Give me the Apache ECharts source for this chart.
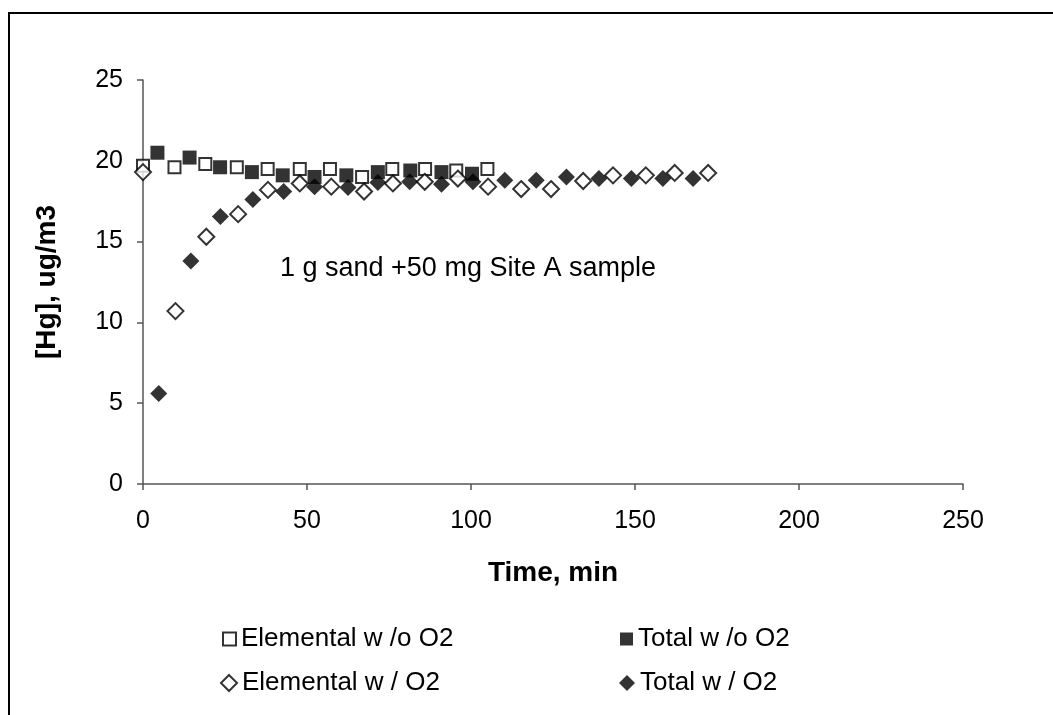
<!DOCTYPE html>
<html>
<head>
<meta charset="utf-8">
<script src="https://cdn.jsdelivr.net/npm/echarts@6/dist/echarts.min.js"></script>
<style>html,body{margin:0;padding:0;background:#fff}#c{width:1053px;height:715px}</style>
</head>
<body>
<div id="c"></div>
<script>
// ---- data ----
const xTicks = [0, 50, 100, 150, 200, 250];
const yTicks = [0, 5, 10, 15, 20, 25];
const seriesNames = ['Elemental w /o O2', 'Total w /o O2', 'Elemental w / O2', 'Total w / O2'];
const elemNoO2_t = [0, 9.6, 19, 28.6, 38, 47.8, 57, 66.8, 76, 86, 95.5, 105];
const elemNoO2_v = [19.7, 19.6, 19.8, 19.6, 19.5, 19.5, 19.5, 19.0, 19.5, 19.5, 19.4, 19.5];
const totalNoO2_t = [4.4, 14.2, 23.5, 33.2, 42.6, 52.3, 62, 71.6, 81.5, 91, 100.3];
const totalNoO2_v = [20.5, 20.2, 19.6, 19.3, 19.1, 19.0, 19.1, 19.3, 19.4, 19.3, 19.2];
const elemO2_t = [0, 9.9, 19.3, 29, 38.1, 47.8, 57.4, 67.4, 76.2, 85.9, 96, 105.2, 115.3, 124.4, 134.2, 143.3, 153.3, 162.1, 172.3];
const elemO2_v = [19.3, 10.7, 15.3, 16.7, 18.2, 18.6, 18.4, 18.1, 18.6, 18.7, 18.9, 18.4, 18.25, 18.25, 18.75, 19.1, 19.1, 19.25, 19.25];
const totalO2_t = [4.8, 14.6, 23.6, 33.5, 42.9, 52.3, 62.5, 71.6, 81.3, 91, 100.6, 110.3, 119.9, 129.1, 139, 148.9, 158.5, 167.7];
const totalO2_v = [5.6, 13.8, 16.55, 17.6, 18.1, 18.4, 18.35, 18.65, 18.7, 18.55, 18.7, 18.8, 18.8, 19.0, 18.9, 18.9, 18.9, 18.9];
const annotation = '1 g sand +50 mg Site A sample';
const xTitle = 'Time, min';
const yTitle = '[Hg], ug/m3';

const FONT = 'Liberation Sans, Arial, sans-serif';
const pairs = (t, v) => t.map((x, i) => [x, v[i]]);

const chart = echarts.init(document.getElementById('c'), null, {renderer: 'canvas'});
const styles = [
  {symbol: 'rect', size: 12, item: {color: '#fff', borderColor: '#000', borderWidth: 2}},
  {symbol: 'rect', size: 14, item: {color: '#000'}},
  {symbol: 'diamond', size: 16, item: {color: '#fff', borderColor: '#000', borderWidth: 2}},
  {symbol: 'diamond', size: 17, item: {color: '#000'}}
];
const datas = [pairs(elemNoO2_t, elemNoO2_v), pairs(totalNoO2_t, totalNoO2_v), pairs(elemO2_t, elemO2_v), pairs(totalO2_t, totalO2_v)];

const legendPos = [
  {left: 222, top: 626}, {left: 620, top: 626},
  {left: 220, top: 670}, {left: 619, top: 670}
];
const legends = seriesNames.map((n, i) => ({
  data: [n], left: legendPos[i].left, top: legendPos[i].top, padding: 0,
  itemWidth: i < 2 ? 13 : 16, itemHeight: i < 2 ? 13 : 16,
  textStyle: {fontFamily: FONT, fontSize: 26, color: '#000'},
  selectedMode: false
}));

chart.setOption({
  animation: false,
  backgroundColor: '#fff',
  grid: {left: 143, right: 90, top: 80, bottom: 231, containLabel: false},
  xAxis: {
    type: 'value', min: xTicks[0], max: xTicks[xTicks.length - 1], interval: 50,
    name: xTitle, nameLocation: 'middle', nameGap: 75,
    nameTextStyle: {fontFamily: FONT, fontSize: 28, fontWeight: 'bold', color: '#000'},
    axisLine: {lineStyle: {color: '#555', width: 1.5}},
    axisTick: {show: true, inside: false, length: 6, lineStyle: {color: '#555', width: 1.5}},
    axisLabel: {fontFamily: FONT, fontSize: 25, color: '#000', margin: 25},
    splitLine: {show: false}
  },
  yAxis: {
    type: 'value', min: yTicks[0], max: yTicks[yTicks.length - 1], interval: 5,
    name: yTitle, nameLocation: 'middle', nameGap: 82, nameRotate: 90,
    nameTextStyle: {fontFamily: FONT, fontSize: 28, fontWeight: 'bold', color: '#000'},
    axisLine: {show: true, lineStyle: {color: '#555', width: 1.5}},
    axisTick: {show: true, inside: false, length: 6, lineStyle: {color: '#555', width: 1.5}},
    axisLabel: {fontFamily: FONT, fontSize: 25, color: '#000', margin: 20},
    splitLine: {show: false}
  },
  legend: legends,
  series: seriesNames.map((n, i) => ({
    name: n, type: 'scatter', data: datas[i],
    symbol: styles[i].symbol, symbolSize: styles[i].size,
    itemStyle: styles[i].item, z: 2 + i
  })),
  graphic: [
    {type: 'rect', shape: {x: 9, y: 13, width: 1200, height: 900}, style: {fill: 'none', stroke: '#000', lineWidth: 2}, silent: true},
    {type: 'text', left: 280, top: 255, style: {text: annotation, font: '27px ' + FONT, fill: '#000'}}
  ]
});
</script>
</body>
</html>
